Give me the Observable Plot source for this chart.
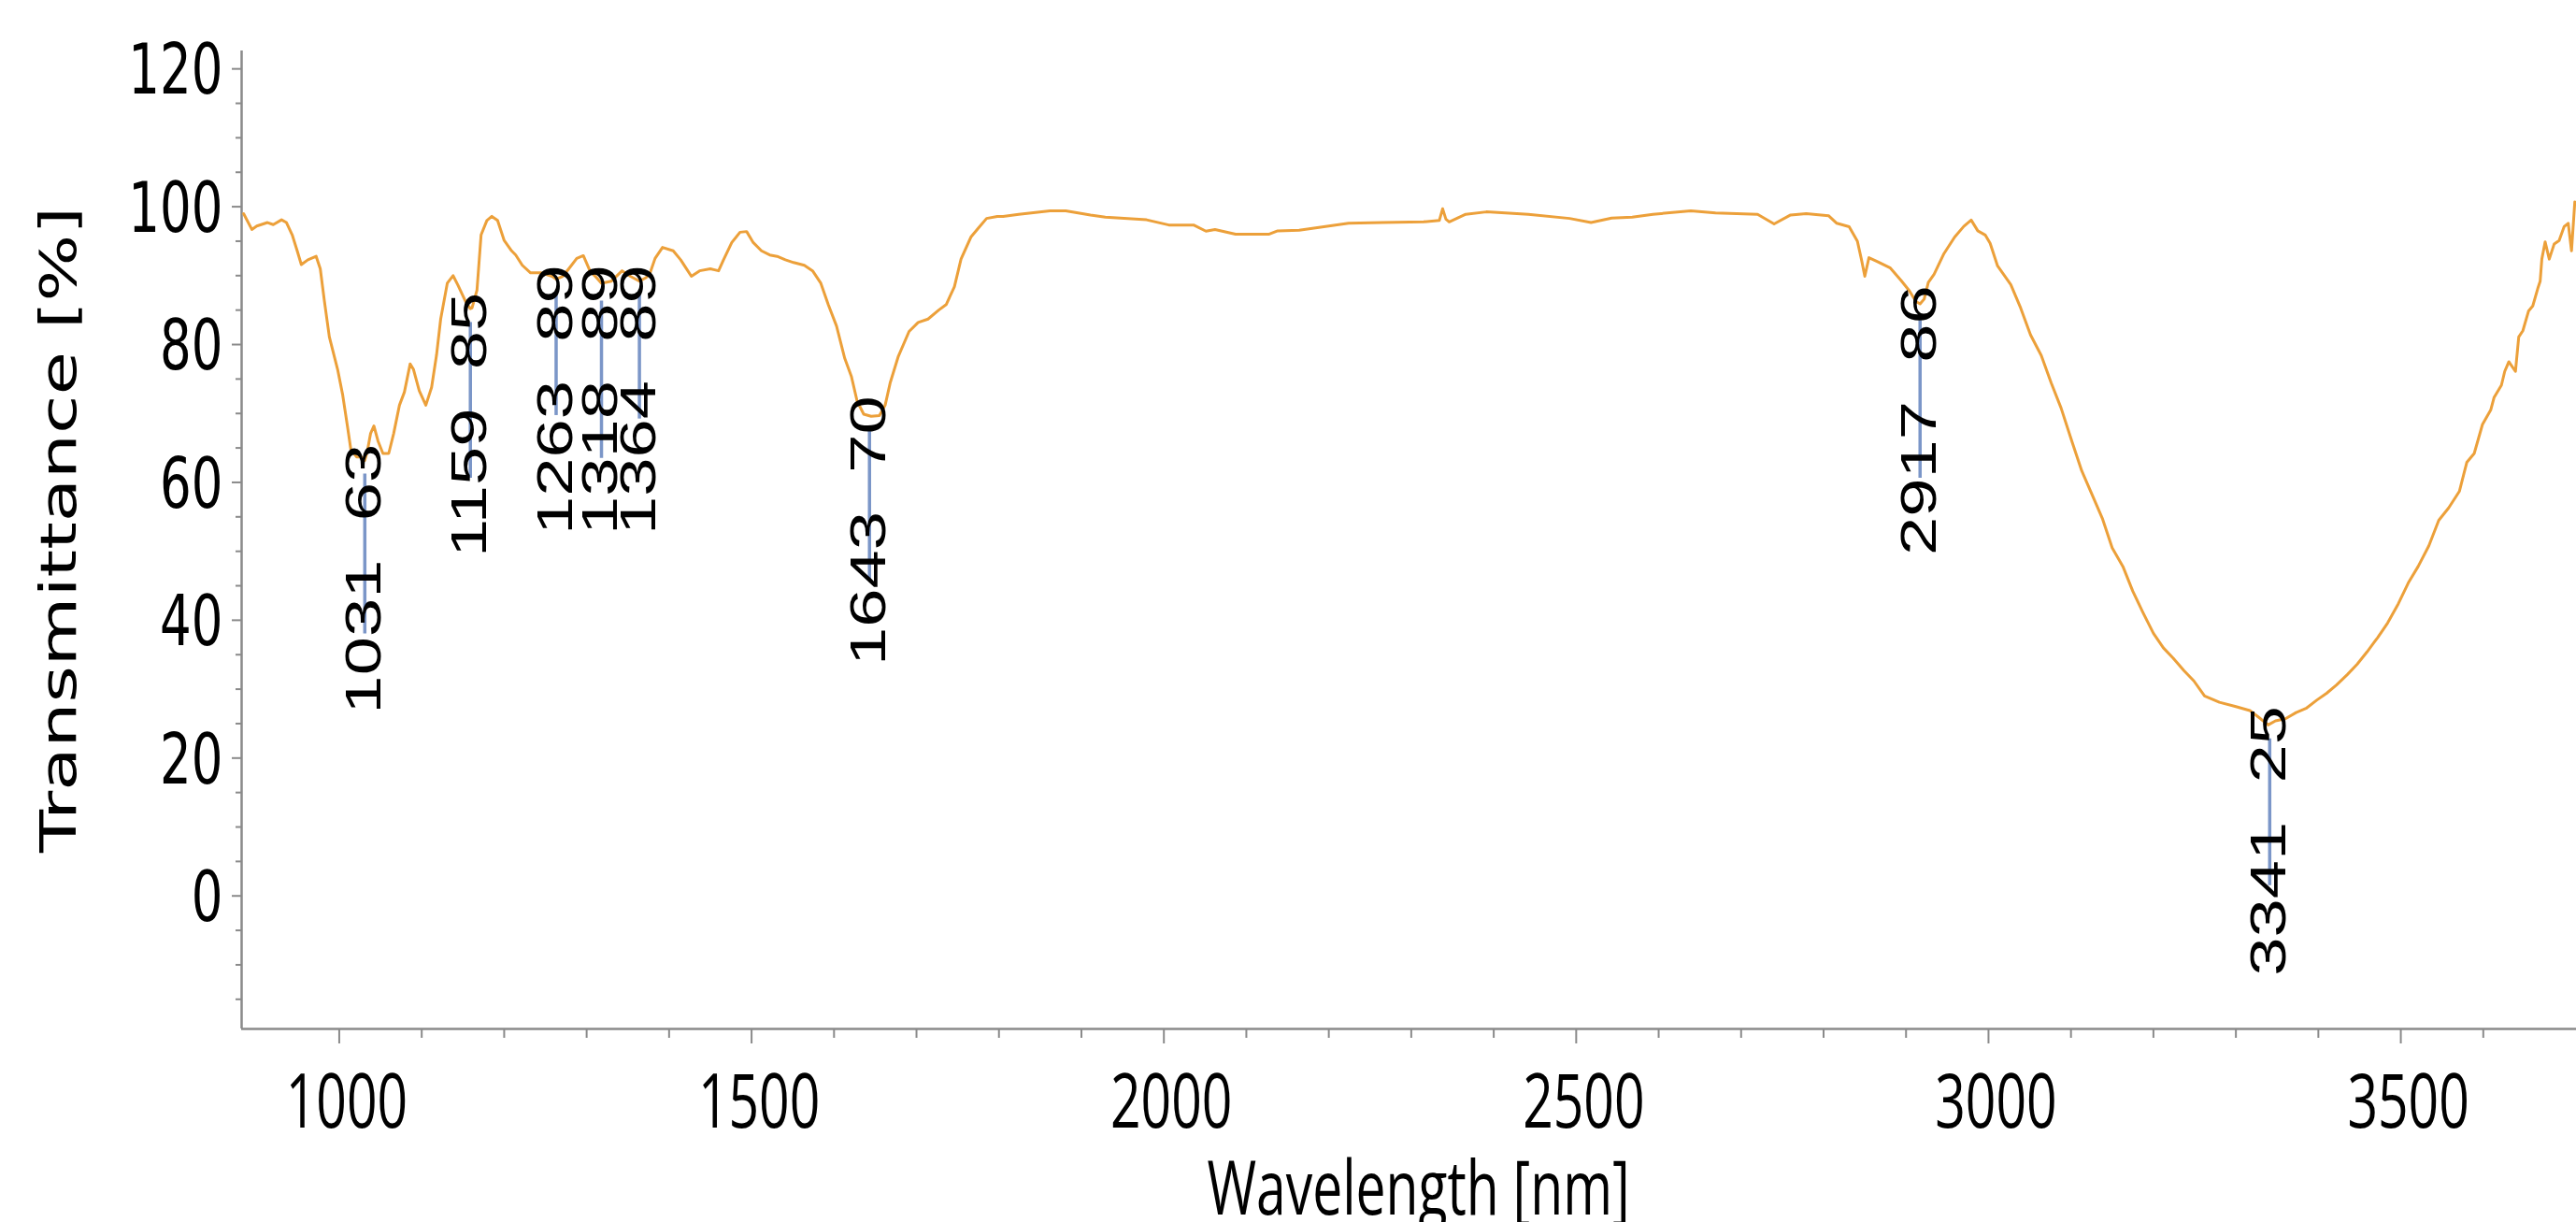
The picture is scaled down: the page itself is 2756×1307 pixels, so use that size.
<!DOCTYPE html>
<html>
<head>
<meta charset="utf-8">
<script src="https://cdn.jsdelivr.net/npm/d3@7"></script>
<script src="https://cdn.jsdelivr.net/npm/@observablehq/plot@0.6"></script>
<style>
html, body { margin: 0; padding: 0; background: #ffffff; }
#chart svg { display: block; }
#chart svg text { white-space: pre; }
</style>
</head>
<body>
<div id="chart"></div>
<script>
// ---- spectrum ----
const wavelength = [
  884, 894, 900, 913, 920, 930, 936, 943, 949, 954, 962, 972, 977, 982, 988, 998,
  1004, 1010, 1014, 1021, 1027, 1031, 1034, 1038, 1042, 1047, 1053, 1060, 1066, 1073, 1079, 1086,
  1090, 1097, 1105, 1112, 1118, 1123, 1131, 1138, 1144, 1153, 1159, 1161, 1167, 1172, 1179, 1185,
  1192, 1200, 1209, 1214, 1222, 1232, 1245, 1258, 1263, 1271, 1279, 1288, 1296, 1304, 1312, 1318,
  1330, 1343, 1353, 1364, 1372, 1377, 1383, 1392, 1405, 1414, 1421, 1427, 1437, 1450, 1460, 1466,
  1476, 1486, 1494, 1502, 1512, 1522, 1531, 1541, 1551, 1564, 1574, 1584, 1593, 1603, 1613, 1621,
  1628, 1636, 1645, 1655, 1662, 1668, 1678, 1691, 1702, 1714, 1727, 1736, 1746, 1754, 1766, 1775,
  1785, 1798, 1805, 1824, 1862, 1881, 1911, 1929, 1979, 2006, 2036, 2051, 2062, 2087, 2127, 2138,
  2164, 2194, 2224, 2265, 2315, 2334, 2338, 2342, 2346, 2366, 2391, 2442, 2492, 2518, 2543, 2568,
  2593, 2639, 2669, 2720, 2740, 2760, 2779, 2806, 2816, 2831, 2841, 2846, 2850, 2855, 2866, 2881,
  2894, 2904, 2912, 2917, 2922, 2927, 2934, 2946, 2959, 2970, 2979, 2987, 2996, 3002, 3011, 3027,
  3039, 3051, 3064, 3076, 3088, 3101, 3113, 3126, 3138, 3150, 3163, 3175, 3187, 3200, 3212, 3224,
  3237, 3249, 3262, 3280, 3299, 3317, 3330, 3339, 3348, 3360, 3373, 3385, 3398, 3410, 3422, 3435,
  3447, 3459, 3472, 3484, 3497, 3509, 3521, 3534, 3546, 3558, 3571, 3580, 3589, 3599, 3609, 3613,
  3622, 3626, 3631, 3639, 3643, 3648, 3655, 3660, 3666, 3669, 3671, 3675, 3680, 3686, 3692, 3698,
  3703, 3707, 3711
];
const transmittance = [
  99.0, 96.7, 97.2, 97.7, 97.4, 98.1, 97.7, 95.9, 93.6, 91.6, 92.3, 92.8, 91.0, 86.3, 81.1, 76.4,
  72.8, 68.1, 64.8, 63.7, 63.7, 63.2, 64.5, 67.1, 68.2, 66.0, 64.2, 64.2, 67.1, 71.2, 73.1, 77.2,
  76.4, 73.3, 71.2, 73.8, 78.5, 83.7, 88.9, 90.0, 88.6, 86.3, 85.2, 85.3, 87.9, 95.9, 98.0, 98.6,
  98.0, 95.1, 93.6, 93.0, 91.5, 90.4, 90.4, 89.9, 89.5, 89.9, 91.1, 92.5, 92.9, 90.7, 89.7, 88.9,
  89.2, 90.7, 89.9, 89.2, 89.7, 90.4, 92.5, 94.1, 93.6, 92.3, 91.0, 89.9, 90.7, 91.0, 90.7, 92.3,
  94.8, 96.3, 96.4, 94.8, 93.6, 93.0, 92.8, 92.3, 91.9, 91.5, 90.7, 88.9, 85.8, 82.7, 78.0, 75.4,
  71.8, 69.9, 69.6, 69.7, 71.2, 74.4, 78.3, 81.9, 83.2, 83.7, 85.0, 85.8, 88.4, 92.4, 95.6, 96.9,
  98.3, 98.6, 98.6, 98.9, 99.4, 99.4, 98.8, 98.5, 98.1, 97.35, 97.35, 96.45, 96.7, 96.0, 96.0, 96.5,
  96.6, 97.1, 97.6, 97.7, 97.8, 98.0, 99.7, 98.2, 97.8, 98.9, 99.25, 98.9, 98.3, 97.7, 98.35, 98.5,
  98.9, 99.4, 99.1, 98.9, 97.5, 98.8, 99.0, 98.7, 97.6, 97.1, 95.0, 92.3, 89.9, 92.6, 92.0, 91.1,
  89.3, 87.8, 86.25, 85.9, 86.6, 89.0, 90.2, 93.2, 95.6, 97.15, 98.06, 96.5, 95.9, 94.7, 91.4, 88.7,
  85.3, 81.4, 78.4, 74.45, 70.8, 66.0, 61.7, 58.1, 54.8, 50.5, 47.8, 44.2, 41.2, 38.1, 36.0, 34.5,
  32.7, 31.2, 29.0, 28.1, 27.5, 26.9, 25.7, 24.8, 25.4, 25.7, 26.6, 27.2, 28.4, 29.4, 30.6, 32.1,
  33.6, 35.4, 37.5, 39.6, 42.4, 45.4, 47.8, 50.8, 54.5, 56.3, 58.7, 62.9, 64.2, 68.4, 70.5, 72.3,
  74.1, 76.1, 77.5, 76.1, 81.1, 82.0, 84.9, 85.6, 88.1, 89.2, 92.4, 94.9, 92.4, 94.6, 95.1, 97.1,
  97.6, 93.6, 100.7
];

// ---- peak callouts ----
const peakWavelength    = [1031, 1159, 1263, 1318, 1364, 1643, 2917, 3341];
const peakTransmittance = [63, 85, 89, 89, 89, 70, 86, 25];
const stemTop           = [61.2, 83.2, 87.3, 86.3, 87.1, 67.4, 83.5, 22.8];
const stemBottom        = [38.0, 60.6, 69.7, 63.5, 69.2, 45.8, 60.6, 1.5];

// ---- axes ----
const xDomain = [881.6, 3713];
const yDomain = [-19.3, 122.6];
const xMajorTicks = [1000, 1500, 2000, 2500, 3000, 3500];
const xMinorTicks = [1100, 1200, 1300, 1400, 1600, 1700, 1800, 1900, 2100, 2200, 2300, 2400,
                     2600, 2700, 2800, 2900, 3100, 3200, 3300, 3400, 3600];
const yMajorTicks = [0, 20, 40, 60, 80, 100, 120];
const yMinorTicks = [-15, -10, -5, 5, 10, 15, 25, 30, 35, 45, 50, 55, 65, 70, 75, 85, 90, 95, 105, 110, 115];
const xTitle = "Wavelength [nm]";
const yTitle = "Transmittance [%]";

// tables built from the arrays
const spectrum = wavelength.map((w, i) => ({w, t: transmittance[i]}));
const peaks = peakWavelength.map((w, i) => ({
  w, t: peakTransmittance[i], top: stemTop[i], bottom: stemBottom[i],
  label: `${w}  ${peakTransmittance[i]}`
}));

const axisColor = "#8a8a8a";
const STRETCH = 1.4;

const svg = Plot.plot({
  width: 2756,
  height: 1307,
  marginLeft: 258,
  marginRight: 0,
  marginTop: 54,
  marginBottom: 207,
  style: {background: "#ffffff", overflow: "visible"},
  x: {domain: xDomain, axis: null},
  y: {domain: yDomain, axis: null},
  marks: [
    // axis lines
    Plot.ruleX([xDomain[0]], {stroke: axisColor, strokeWidth: 2.5}),
    Plot.ruleY([yDomain[0]], {stroke: axisColor, strokeWidth: 2.5}),
    // ticks
    Plot.axisX(xMajorTicks, {tickSize: 16, stroke: axisColor, strokeWidth: 2, fill: "none", label: null}),
    Plot.axisX(xMinorTicks, {tickSize: 10, stroke: axisColor, strokeWidth: 2, fill: "none", label: null}),
    Plot.axisY(yMajorTicks, {tickSize: 10, stroke: axisColor, strokeWidth: 2, fill: "none", label: null}),
    Plot.axisY(yMinorTicks, {tickSize: 6, stroke: axisColor, strokeWidth: 2, fill: "none", label: null}),
    // tick labels
    Plot.text(yMajorTicks, {
      x: () => xDomain[0], y: d => d, text: d => String(d),
      textAnchor: "end", lineAnchor: "middle", dx: -20, dy: 3,
      fontFamily: "DejaVu Sans", fontSize: 53, fill: "#000"
    }),
    Plot.text(xMajorTicks, {
      x: d => d, y: () => yDomain[0], text: d => String(d),
      textAnchor: "middle", lineAnchor: "bottom", dx: 8, dy: 105,
      fontFamily: "Open Sans", fontSize: 57, fill: "#000"
    }),
    // axis titles
    Plot.text([xTitle], {
      frameAnchor: "bottom", text: d => d,
      textAnchor: "middle", lineAnchor: "bottom", dx: 10, dy: 198,
      fontFamily: "Open Sans", fontSize: 57, fill: "#000"
    }),
    Plot.text([yTitle], {
      frameAnchor: "left", text: d => d, rotate: -90,
      textAnchor: "middle", lineAnchor: "bottom", dx: -178, dy: -11,
      fontFamily: "DejaVu Sans", fontSize: 54, fill: "#000"
    }),
    // spectrum
    Plot.line(spectrum, {x: "w", y: "t", stroke: "#eca03a", strokeWidth: 3, strokeLinejoin: "round"}),
    // callout stems
    Plot.ruleX(peaks, {x: "w", y1: "top", y2: "bottom", stroke: "#7b96c8", strokeWidth: 3.5}),
    // callout labels
    Plot.text(peaks, {
      x: "w", y: "t", text: "label", rotate: -90,
      textAnchor: "end", lineAnchor: "middle", dy: -19,
      fontFamily: "Liberation Sans", fontSize: 53, fill: "#000"
    })
  ]
});

// The reference's lettering is stretched along the vertical of the page:
// horizontal texts get taller, rotated texts get longer.
svg.querySelectorAll('g[aria-label="text"] text').forEach(t => {
  const tr = t.getAttribute("transform") || "";
  const rotated = /rotate\(/.test(tr);
  t.setAttribute("transform", `${tr} ${rotated ? `scale(${STRETCH},1)` : `scale(1,${STRETCH})`}`);
  t.setAttributeNS("http://www.w3.org/XML/1998/namespace", "xml:space", "preserve");
});

document.getElementById("chart").appendChild(svg);
</script>
</body>
</html>
